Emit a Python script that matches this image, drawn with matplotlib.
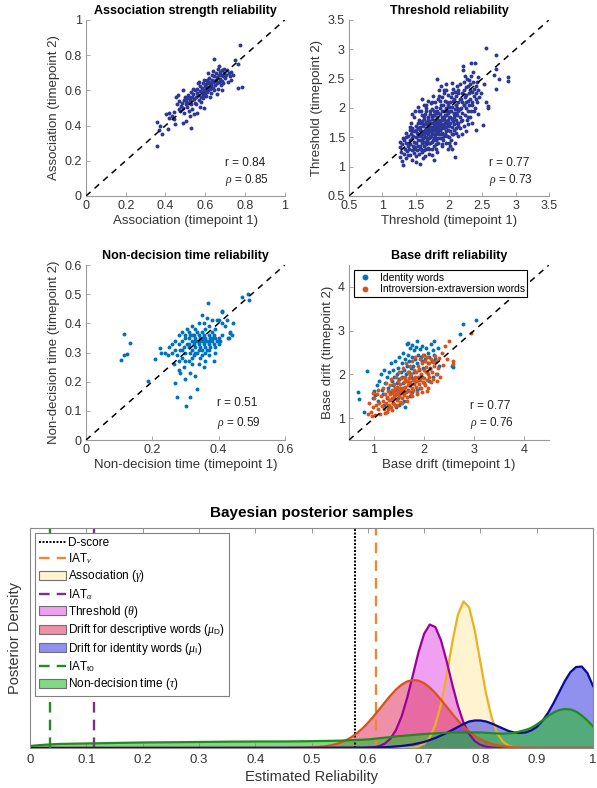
import numpy as np
import matplotlib
matplotlib.use("Agg")
import matplotlib.pyplot as plt
from matplotlib.patches import Patch
from matplotlib.lines import Line2D
from matplotlib.colors import to_rgba

plt.rcParams["font.family"] = ["Liberation Sans", "DejaVu Sans"]
plt.rcParams["mathtext.fontset"] = "custom"
plt.rcParams["mathtext.rm"] = "Liberation Sans"
plt.rcParams["mathtext.it"] = "Liberation Serif:italic"
plt.rcParams["mathtext.bf"] = "Liberation Sans:bold"

# ---------------- scatter data (timepoint 1, timepoint 2) ----------------
assoc_pts = [
    (0.357, 0.420), (0.357, 0.284), (0.371, 0.398), (0.382, 0.350), (0.366, 0.375),
    (0.412, 0.379), (0.441, 0.436), (0.405, 0.468), (0.420, 0.470), (0.432, 0.455),
    (0.445, 0.478), (0.418, 0.445), (0.448, 0.410),
    (0.487, 0.602), (0.487, 0.413), (0.455, 0.560), (0.462, 0.575), (0.470, 0.540),
    (0.478, 0.512), (0.483, 0.528), (0.490, 0.500), (0.495, 0.548), (0.468, 0.495),
    (0.458, 0.520), (0.492, 0.470), (0.475, 0.485), (0.498, 0.565),
    (0.501, 0.426), (0.526, 0.388), (0.541, 0.464), (0.505, 0.540), (0.510, 0.555),
    (0.515, 0.530), (0.520, 0.560), (0.525, 0.545), (0.530, 0.520), (0.535, 0.565),
    (0.540, 0.580), (0.545, 0.550), (0.508, 0.505), (0.518, 0.480), (0.522, 0.455),
    (0.532, 0.495), (0.538, 0.610), (0.548, 0.530), (0.512, 0.575), (0.528, 0.590),
    (0.546, 0.600), (0.503, 0.520),
    (0.593, 0.502), (0.552, 0.560), (0.556, 0.585), (0.560, 0.610), (0.565, 0.575),
    (0.568, 0.545), (0.572, 0.598), (0.575, 0.625), (0.578, 0.560), (0.582, 0.590),
    (0.585, 0.612), (0.588, 0.640), (0.590, 0.575), (0.595, 0.600), (0.598, 0.625),
    (0.555, 0.520), (0.562, 0.640), (0.570, 0.650), (0.580, 0.535), (0.587, 0.555),
    (0.592, 0.660), (0.597, 0.585), (0.558, 0.470), (0.576, 0.505),
    (0.646, 0.776), (0.602, 0.610), (0.605, 0.635), (0.608, 0.590), (0.610, 0.655),
    (0.612, 0.620), (0.615, 0.600), (0.618, 0.640), (0.620, 0.670), (0.622, 0.610),
    (0.625, 0.650), (0.628, 0.585), (0.630, 0.630), (0.632, 0.690), (0.635, 0.660),
    (0.638, 0.615), (0.640, 0.645), (0.642, 0.600), (0.645, 0.680), (0.648, 0.630),
    (0.603, 0.570), (0.613, 0.700), (0.623, 0.560), (0.633, 0.645), (0.637, 0.710),
    (0.643, 0.655), (0.607, 0.660), (0.627, 0.625),
    (0.652, 0.660), (0.655, 0.700), (0.658, 0.640), (0.660, 0.675), (0.662, 0.720),
    (0.665, 0.610), (0.668, 0.690), (0.670, 0.650), (0.672, 0.705), (0.675, 0.665),
    (0.678, 0.630), (0.680, 0.690), (0.683, 0.715), (0.685, 0.655), (0.688, 0.680),
    (0.690, 0.640), (0.693, 0.700), (0.697, 0.670), (0.657, 0.580), (0.667, 0.740),
    (0.682, 0.600), (0.695, 0.720),
    (0.775, 0.856), (0.751, 0.771), (0.763, 0.752), (0.783, 0.621), (0.765, 0.616),
    (0.731, 0.657), (0.705, 0.690), (0.710, 0.715), (0.718, 0.700), (0.722, 0.680),
    (0.728, 0.705), (0.715, 0.650), (0.740, 0.690),
]

thr_pts = [
    (1.26, 1.34), (1.26, 1.17), (1.31, 1.03), (1.28, 1.25), (1.30, 1.38), (1.32, 1.22),
    (1.33, 1.45), (1.34, 1.30), (1.35, 1.15), (1.36, 1.40), (1.37, 1.27), (1.38, 1.52),
    (1.39, 1.35), (1.29, 1.10), (1.35, 1.58), (1.31, 1.48), (1.38, 1.20), (1.27, 1.42),
    (1.40, 1.30), (1.41, 1.45), (1.41, 1.62), (1.42, 1.20), (1.42, 1.38), (1.43, 1.55),
    (1.43, 1.75), (1.44, 1.28), (1.44, 1.48), (1.45, 1.12), (1.45, 1.66), (1.46, 1.35),
    (1.46, 1.52), (1.47, 1.85), (1.47, 1.24), (1.48, 1.42), (1.48, 1.60), (1.49, 1.33),
    (1.49, 1.95), (1.50, 1.50), (1.50, 1.18), (1.51, 1.70), (1.51, 1.40), (1.52, 1.28),
    (1.52, 1.58), (1.53, 1.46), (1.53, 2.02), (1.54, 1.36), (1.54, 1.65), (1.55, 1.22),
    (1.55, 1.80), (1.45, 1.90), (1.50, 1.08), (1.42, 1.68), (1.53, 1.52),
    (1.56, 1.45), (1.56, 1.62), (1.57, 1.05), (1.57, 1.30), (1.58, 1.75), (1.58, 1.52),
    (1.59, 1.40), (1.59, 1.88), (1.60, 1.25), (1.60, 1.60), (1.61, 1.48), (1.61, 1.70),
    (1.62, 1.35), (1.62, 2.05), (1.63, 1.55), (1.63, 1.82), (1.64, 1.42), (1.64, 1.18),
    (1.65, 1.65), (1.65, 1.95), (1.66, 1.50), (1.66, 1.30), (1.67, 1.72), (1.67, 1.58),
    (1.68, 1.40), (1.68, 2.12), (1.69, 1.62), (1.69, 1.85), (1.70, 1.48), (1.70, 1.22),
    (1.57, 1.68), (1.58, 1.95), (1.60, 1.78), (1.61, 1.15), (1.62, 1.58), (1.63, 1.28),
    (1.64, 1.90), (1.65, 1.38), (1.66, 1.76), (1.67, 1.45), (1.68, 1.66), (1.69, 1.32),
    (1.56, 1.35), (1.59, 1.55), (1.62, 1.72), (1.64, 1.62), (1.66, 2.00), (1.68, 1.55),
    (1.70, 1.78), (1.60, 2.15),
    (1.71, 1.60), (1.71, 1.90), (1.72, 1.40), (1.72, 1.75), (1.73, 1.52), (1.73, 2.08),
    (1.74, 1.30), (1.74, 1.68), (1.75, 1.85), (1.75, 1.58), (1.76, 1.45), (1.76, 2.20),
    (1.77, 1.72), (1.77, 1.12), (1.78, 1.62), (1.78, 1.95), (1.79, 1.50), (1.79, 1.80),
    (1.80, 1.38), (1.80, 1.70), (1.81, 2.02), (1.81, 1.58), (1.82, 1.25), (1.82, 1.85),
    (1.83, 1.66), (1.83, 1.48), (1.84, 1.92), (1.84, 1.75), (1.85, 1.55), (1.85, 2.30),
    (1.72, 1.95), (1.73, 1.62), (1.74, 1.82), (1.75, 1.42), (1.76, 1.65), (1.77, 1.88),
    (1.78, 1.35), (1.79, 2.10), (1.80, 1.55), (1.81, 1.78), (1.82, 1.62), (1.83, 2.15),
    (1.84, 1.40), (1.825, 2.49), (1.71, 1.50), (1.73, 1.75), (1.75, 1.98), (1.77, 1.55),
    (1.79, 1.68), (1.81, 1.45), (1.83, 1.80), (1.85, 1.70), (1.74, 1.20), (1.78, 1.78),
    (1.82, 1.95),
    (1.86, 1.62), (1.86, 1.90), (1.87, 1.48), (1.87, 1.78), (1.88, 2.05), (1.88, 1.68),
    (1.89, 1.35), (1.89, 1.85), (1.90, 1.58), (1.90, 2.18), (1.91, 1.72), (1.91, 1.45),
    (1.92, 1.95), (1.92, 1.65), (1.93, 1.82), (1.93, 2.30), (1.94, 1.55), (1.94, 1.75),
    (1.95, 2.00), (1.95, 1.40), (1.96, 1.88), (1.96, 1.68), (1.97, 2.10), (1.97, 1.52),
    (1.98, 1.80), (1.98, 1.62), (1.99, 2.22), (1.99, 1.92), (2.00, 1.70), (2.00, 1.50),
    (1.86, 1.72), (1.87, 2.00), (1.88, 1.55), (1.89, 1.95), (1.90, 1.80), (1.91, 2.05),
    (1.92, 1.52), (1.93, 1.70), (1.94, 2.12), (1.95, 1.78), (1.96, 1.60), (1.97, 1.95),
    (1.98, 1.30), (1.99, 1.72), (2.00, 2.02), (1.88, 2.38), (1.92, 1.85), (1.95, 2.40),
    (1.97, 1.75), (1.90, 1.65),
    (2.01, 1.85), (2.01, 1.60), (2.02, 2.10), (2.02, 1.75), (2.03, 1.95), (2.03, 1.45),
    (2.04, 2.25), (2.04, 1.68), (2.05, 1.82), (2.05, 2.02), (2.06, 1.55), (2.06, 2.32),
    (2.07, 1.90), (2.07, 1.72), (2.08, 2.15), (2.08, 1.62), (2.09, 1.98), (2.09, 1.40),
    (2.10, 1.80), (2.10, 2.20), (2.11, 1.65), (2.11, 2.05), (2.12, 1.88), (2.12, 2.38),
    (2.13, 1.75), (2.13, 1.52), (2.14, 2.10), (2.14, 1.95), (2.095, 1.16), (2.02, 1.35),
    (2.05, 2.42), (2.08, 1.85), (2.10, 1.58), (2.12, 2.00), (2.14, 1.70), (2.03, 2.18),
    (2.06, 1.78), (2.09, 2.28), (2.11, 1.92), (2.13, 2.25),
    (2.16, 1.85), (2.16, 2.15), (2.17, 1.65), (2.17, 2.40), (2.18, 2.00), (2.18, 1.78),
    (2.19, 2.25), (2.19, 1.55), (2.20, 2.10), (2.20, 1.92), (2.21, 2.71), (2.21, 2.64),
    (2.22, 2.30), (2.22, 1.70), (2.23, 2.05), (2.23, 2.45), (2.24, 1.88), (2.24, 2.18),
    (2.25, 1.60), (2.25, 2.35), (2.26, 2.00), (2.26, 2.22), (2.27, 1.80), (2.27, 2.50),
    (2.28, 2.12), (2.28, 1.95), (2.29, 2.38), (2.29, 1.72), (2.30, 2.25), (2.30, 2.05),
    (2.31, 1.85), (2.31, 2.40), (2.32, 2.15), (2.33, 2.55), (2.33, 1.95), (2.335, 2.77),
    (2.34, 2.28), (2.35, 2.05), (2.35, 1.75), (2.36, 2.45), (2.37, 2.20), (2.38, 2.32),
    (2.385, 2.77), (2.39, 2.00), (2.40, 2.38), (2.41, 1.63), (2.41, 2.25), (2.42, 2.10),
    (2.43, 2.30), (2.44, 1.90), (2.44, 2.52), (2.45, 2.18),
    (2.56, 3.03), (2.71, 2.90), (2.70, 2.66), (2.67, 2.57), (2.745, 2.50), (2.885, 2.53),
    (2.885, 2.46), (2.71, 2.33), (2.585, 2.04), (2.585, 2.00), (2.51, 1.715), (2.48, 2.25),
    (2.52, 2.40), (2.55, 2.10),
    (1.36, 1.50), (1.40, 1.40), (1.44, 1.60), (1.47, 1.30), (1.50, 1.62), (1.53, 1.75),
    (1.56, 1.55), (1.58, 1.30), (1.60, 1.45), (1.62, 1.85), (1.64, 1.50), (1.66, 1.62),
    (1.68, 1.80), (1.70, 1.40), (1.72, 1.68), (1.74, 1.55), (1.76, 1.88), (1.78, 1.48),
    (1.80, 1.92), (1.82, 1.72), (1.84, 1.60), (1.86, 2.12), (1.88, 1.80), (1.90, 1.48),
    (1.92, 2.25), (1.94, 1.88), (1.96, 1.75), (1.98, 2.05), (2.00, 1.85), (2.02, 1.95),
    (2.04, 1.55), (2.06, 2.12), (2.08, 1.92), (2.10, 2.05), (2.12, 1.75), (2.14, 2.30),
    (2.16, 1.98), (2.18, 2.15), (2.20, 1.80), (2.22, 2.05), (2.24, 2.55), (2.26, 2.10),
    (2.28, 1.85), (2.30, 2.48), (2.32, 2.30), (2.34, 2.10), (2.36, 2.62), (2.38, 1.95),
    (2.40, 2.15), (2.42, 2.45), (1.55, 1.95), (1.65, 2.05), (1.75, 2.10), (1.85, 2.20),
    (1.95, 2.30), (1.70, 1.30), (1.80, 1.30), (1.90, 1.38), (2.00, 1.40), (2.05, 1.30),
]

ndt_pts = [
    (0.114, 0.364), (0.106, 0.274), (0.116, 0.290), (0.124, 0.295), (0.134, 0.331),
    (0.187, 0.203), (0.207, 0.278), (0.222, 0.316), (0.227, 0.299), (0.247, 0.293),
    (0.270, 0.195), (0.275, 0.146), (0.302, 0.118), (0.315, 0.149), (0.336, 0.176),
    (0.367, 0.469), (0.488, 0.500), (0.472, 0.489), (0.491, 0.480), (0.410, 0.443),
    (0.435, 0.366), (0.431, 0.351), (0.385, 0.270),
    (0.25, 0.32), (0.26, 0.30), (0.265, 0.26), (0.27, 0.34), (0.27, 0.31), (0.275, 0.29),
    (0.28, 0.33), (0.28, 0.36), (0.28, 0.24), (0.285, 0.31), (0.285, 0.23), (0.29, 0.34),
    (0.29, 0.28), (0.29, 0.37), (0.295, 0.32), (0.295, 0.25), (0.30, 0.35), (0.30, 0.30),
    (0.30, 0.21), (0.305, 0.33), (0.305, 0.38), (0.31, 0.32), (0.31, 0.27), (0.31, 0.35),
    (0.315, 0.30), (0.315, 0.36), (0.315, 0.23), (0.32, 0.34), (0.32, 0.31), (0.32, 0.39),
    (0.32, 0.26), (0.325, 0.33), (0.325, 0.36), (0.325, 0.29), (0.33, 0.35), (0.33, 0.32),
    (0.33, 0.38), (0.33, 0.22), (0.335, 0.34), (0.335, 0.30), (0.335, 0.37), (0.34, 0.33),
    (0.34, 0.36), (0.34, 0.31), (0.34, 0.40), (0.345, 0.35), (0.345, 0.32), (0.345, 0.28),
    (0.35, 0.34), (0.35, 0.37), (0.35, 0.31), (0.35, 0.43), (0.355, 0.33), (0.355, 0.36),
    (0.355, 0.25), (0.36, 0.35), (0.36, 0.32), (0.36, 0.38), (0.36, 0.30), (0.365, 0.34),
    (0.365, 0.42), (0.365, 0.31), (0.37, 0.36), (0.37, 0.33), (0.37, 0.39), (0.37, 0.29),
    (0.375, 0.35), (0.375, 0.32), (0.38, 0.37), (0.38, 0.34), (0.38, 0.41), (0.385, 0.33),
    (0.385, 0.36), (0.39, 0.35), (0.39, 0.32), (0.39, 0.38), (0.395, 0.34), (0.40, 0.41),
    (0.40, 0.35), (0.40, 0.33), (0.405, 0.34), (0.41, 0.36), (0.41, 0.40), (0.42, 0.39),
    (0.425, 0.41), (0.43, 0.35), (0.435, 0.37), (0.44, 0.36), (0.445, 0.40), (0.30, 0.36),
    (0.31, 0.37), (0.32, 0.36), (0.33, 0.34), (0.34, 0.34), (0.35, 0.35), (0.36, 0.34),
    (0.37, 0.34), (0.38, 0.35), (0.29, 0.31), (0.31, 0.33), (0.33, 0.30), (0.35, 0.29),
    (0.37, 0.31), (0.39, 0.30), (0.36, 0.27), (0.34, 0.26), (0.32, 0.28), (0.28, 0.27),
    (0.30, 0.27), (0.26, 0.33), (0.24, 0.30), (0.41, 0.44), (0.395, 0.41), (0.355, 0.40),
]

drift_identity_pts = [
    (0.67, 1.60), (0.70, 1.43), (0.79, 1.15), (0.855, 2.08), (0.97, 1.45), (1.00, 1.62),
    (1.02, 1.52), (1.05, 1.75), (1.08, 1.40), (1.10, 1.85), (1.13, 2.00), (1.20, 2.11),
    (1.15, 1.65), (1.18, 1.55), (1.22, 1.80), (1.25, 1.95), (1.28, 1.70), (1.30, 2.05),
    (1.32, 1.60), (1.34, 2.25), (1.35, 1.85), (1.37, 1.75), (1.38, 2.10), (1.40, 1.95),
    (1.42, 2.30), (1.43, 1.65), (1.45, 2.00), (1.46, 1.80), (1.48, 2.15), (1.50, 2.40),
    (1.50, 1.90), (1.52, 1.70), (1.53, 2.05), (1.55, 2.25), (1.56, 1.95), (1.58, 2.50),
    (1.58, 1.80), (1.60, 2.10), (1.61, 2.35), (1.62, 1.60), (1.63, 2.00), (1.65, 2.70),
    (1.65, 2.20), (1.66, 1.85), (1.67, 2.72), (1.68, 2.45), (1.69, 2.05), (1.70, 2.30),
    (1.71, 1.75), (1.72, 2.60), (1.73, 2.15), (1.74, 1.95), (1.75, 2.40), (1.76, 2.68),
    (1.77, 2.20), (1.78, 1.90), (1.80, 2.55), (1.80, 2.05), (1.82, 2.35), (1.83, 2.62),
    (1.84, 1.85), (1.86, 2.77), (1.86, 2.25), (1.88, 2.45), (1.90, 2.10), (1.91, 2.58),
    (1.92, 1.95), (1.94, 2.40), (1.95, 2.30), (1.96, 2.65), (1.98, 2.15), (2.00, 2.45),
    (2.00, 1.80), (2.02, 2.35), (2.04, 2.60), (2.05, 2.05), (2.07, 2.25), (2.08, 2.50),
    (2.10, 2.40), (2.12, 2.15), (2.14, 2.70), (2.15, 2.30), (2.17, 2.55), (2.18, 1.95),
    (2.20, 2.77), (2.20, 2.45), (2.22, 2.35), (2.25, 2.00), (2.27, 2.60), (2.30, 2.20),
    (2.55, 2.20), (2.57, 2.18), (2.71, 2.92), (2.78, 3.15), (3.04, 3.25), (1.40, 1.55),
    (1.47, 1.45), (1.55, 1.60), (1.60, 1.40), (1.68, 1.65), (1.72, 1.50), (1.38, 1.35),
    (1.44, 1.25), (1.50, 1.30), (1.30, 1.25), (1.25, 1.45), (1.20, 1.30), (1.62, 1.25),
    (1.75, 1.60), (1.85, 1.65), (1.92, 1.70), (2.10, 1.85),
]

drift_introext_pts = [
    (0.88, 1.10), (0.90, 1.35), (0.93, 1.13), (0.95, 1.05), (0.97, 1.58), (0.98, 1.25),
    (1.00, 1.45), (1.02, 1.08), (1.04, 1.30), (1.05, 1.55), (1.07, 1.20), (1.08, 1.65),
    (1.10, 1.35), (1.12, 1.10), (1.14, 1.50), (1.15, 1.28), (1.17, 1.70), (1.18, 1.40),
    (1.20, 1.22), (1.21, 1.55), (1.23, 1.35), (1.24, 1.80), (1.25, 1.15), (1.26, 1.48),
    (1.28, 1.62), (1.29, 1.30), (1.30, 1.42), (1.31, 1.75), (1.32, 1.55), (1.33, 1.25),
    (1.34, 1.90), (1.35, 1.45), (1.36, 1.65), (1.37, 1.35), (1.38, 1.58), (1.39, 1.78),
    (1.40, 1.48), (1.41, 1.68), (1.42, 1.30), (1.43, 1.95), (1.44, 1.55), (1.45, 1.72),
    (1.46, 1.42), (1.47, 1.62), (1.48, 1.85), (1.49, 1.50), (1.50, 2.05), (1.50, 1.68),
    (1.51, 1.38), (1.52, 1.78), (1.53, 1.58), (1.54, 1.92), (1.55, 1.45), (1.56, 1.70),
    (1.57, 2.15), (1.58, 1.62), (1.59, 1.82), (1.60, 1.52), (1.61, 1.95), (1.62, 1.72),
    (1.63, 2.25), (1.64, 1.60), (1.65, 1.85), (1.66, 1.48), (1.67, 2.05), (1.68, 1.75),
    (1.69, 1.92), (1.70, 1.62), (1.71, 2.20), (1.72, 1.82), (1.73, 1.55), (1.74, 2.00),
    (1.75, 1.70), (1.76, 2.30), (1.77, 1.88), (1.78, 1.65), (1.79, 2.10), (1.80, 1.78),
    (1.81, 1.95), (1.82, 2.40), (1.83, 1.72), (1.84, 2.05), (1.85, 1.85), (1.86, 1.60),
    (1.87, 2.20), (1.88, 1.95), (1.89, 1.78), (1.90, 2.12), (1.91, 2.35), (1.92, 1.88),
    (1.93, 2.02), (1.94, 1.70), (1.95, 2.25), (1.96, 1.95), (1.97, 2.45), (1.98, 1.82),
    (1.99, 2.10), (2.00, 1.92), (2.01, 2.30), (2.02, 1.75), (2.03, 2.05), (2.04, 2.18),
    (2.05, 1.88), (2.06, 2.40), (2.07, 2.00), (2.08, 1.68), (2.09, 2.25), (2.10, 1.95),
    (2.12, 2.12), (2.13, 2.35), (2.14, 1.82), (2.15, 2.05), (2.17, 2.28), (2.18, 1.90),
    (2.20, 2.20), (2.21, 2.42), (2.23, 2.00), (2.24, 2.30), (2.26, 1.85), (2.28, 2.15),
    (2.30, 2.38), (2.32, 1.95), (2.35, 2.48), (2.38, 2.22), (2.41, 2.66), (2.45, 2.35),
    (2.50, 2.76), (2.57, 2.23), (2.58, 2.30), (2.94, 2.95), (1.22, 1.12), (1.27, 1.20),
    (1.35, 1.18), (1.45, 1.30), (1.55, 1.35), (1.65, 1.40), (1.75, 1.50), (1.85, 1.55),
    (1.95, 1.60), (2.05, 1.62), (1.40, 1.62), (1.50, 1.58), (1.60, 1.68), (1.70, 1.78),
    (1.80, 1.88), (1.62, 1.88), (1.72, 1.98), (1.52, 1.65), (1.42, 1.52), (1.32, 1.42),
]

corr_stats = {"assoc": (0.84, 0.85), "thr": (0.77, 0.73), "ndt": (0.51, 0.59), "drift": (0.77, 0.76)}

# ---------------- posterior densities ----------------
assoc_x = [0.0, 0.66, 0.67, 0.68, 0.69, 0.70, 0.71, 0.72, 0.73, 0.74, 0.75, 0.76, 0.77, 0.78,
           0.79, 0.80, 0.81, 0.82, 0.83, 0.84, 0.85, 0.86, 0.87, 0.88, 1.0]
assoc_d = [0.0, 0.0, 0.01, 0.04, 0.15, 0.42, 1.05, 2.30, 4.38, 7.28, 10.55, 13.32, 14.66, 14.07,
           11.77, 8.58, 5.46, 3.03, 1.46, 0.62, 0.23, 0.07, 0.02, 0.0, 0.0]

thr_x = [0.0, 0.59, 0.60, 0.61, 0.62, 0.63, 0.64, 0.65, 0.66, 0.67, 0.68, 0.69, 0.70, 0.71, 0.72,
         0.73, 0.74, 0.75, 0.76, 0.77, 0.78, 0.79, 0.80, 0.81, 0.82, 0.83, 0.84, 1.0]
thr_d = [0.0, 0.0, 0.02, 0.07, 0.18, 0.43, 0.92, 1.79, 3.15, 5.03, 7.28, 9.58, 11.42, 12.35, 12.10,
         10.77, 8.69, 6.36, 4.22, 2.54, 1.39, 0.69, 0.31, 0.13, 0.05, 0.01, 0.0, 0.0]

driftD_x = [0.0, 0.46, 0.48, 0.50, 0.52, 0.53, 0.54, 0.55, 0.56, 0.57, 0.58, 0.59, 0.60, 0.61,
            0.62, 0.63, 0.64, 0.65, 0.66, 0.67, 0.68, 0.69, 0.70, 0.71, 0.72, 0.73, 0.74, 0.75,
            0.76, 0.77, 0.78, 0.79, 0.80, 0.81, 0.82, 0.83, 0.84, 0.86, 0.88, 0.90, 1.0]
driftD_d = [0.0, 0.0, 0.02, 0.05, 0.14, 0.22, 0.34, 0.51, 0.74, 1.05, 1.45, 1.93, 2.50, 3.15,
            3.84, 4.55, 5.23, 5.84, 6.33, 6.66, 6.79, 6.74, 6.48, 6.05, 5.49, 4.83, 4.12, 3.42,
            2.75, 2.15, 1.63, 1.20, 0.86, 0.60, 0.40, 0.26, 0.17, 0.06, 0.02, 0.0, 0.0]

driftI_x = [0.0, 0.30, 0.50, 0.60, 0.62, 0.64, 0.66, 0.68, 0.70, 0.72, 0.74, 0.76, 0.77, 0.78,
            0.79, 0.80, 0.81, 0.82, 0.83, 0.84, 0.85, 0.86, 0.87, 0.88, 0.89, 0.90, 0.91, 0.92,
            0.93, 0.94, 0.95, 0.96, 0.97, 0.98, 0.99, 1.00]
driftI_d = [0.0, 0.01, 0.02, 0.04, 0.06, 0.10, 0.20, 0.35, 0.60, 1.00, 1.50, 2.10, 2.40, 2.65,
            2.75, 2.75, 2.65, 2.45, 2.20, 1.95, 1.70, 1.55, 1.50, 1.55, 1.75, 2.10, 2.70, 3.50,
            4.50, 5.60, 6.70, 7.60, 8.10, 8.15, 7.50, 6.20]

ndt_x = [0.00, 0.02, 0.05, 0.10, 0.15, 0.20, 0.25, 0.30, 0.35, 0.40, 0.45, 0.50, 0.55, 0.60,
         0.65, 0.70, 0.75, 0.80, 0.82, 0.84, 0.86, 0.87, 0.88, 0.89, 0.90, 0.91, 0.92, 0.93,
         0.94, 0.95, 0.96, 0.97, 0.98, 0.99, 1.00]
ndt_d = [0.20, 0.30, 0.40, 0.45, 0.50, 0.55, 0.57, 0.60, 0.63, 0.65, 0.65, 0.68, 0.73, 0.85,
         1.15, 1.40, 1.55, 1.55, 1.48, 1.43, 1.50, 1.65, 1.80, 2.00, 2.35, 2.75, 3.20, 3.55,
         3.80, 3.90, 3.85, 3.65, 3.25, 2.75, 2.17]

ref_values = {"D-score": 0.577, "IAT_nu": 0.615, "IAT_alpha": 0.113, "IAT_t0": 0.036}

# ---------------- figure ----------------
fig = plt.figure(figsize=(5.97, 7.88), dpi=100)

SPINE = "#9a9a9a"
TXT = "#333333"
DARKBLUE = "#2c3796"
MBLUE = "#0072BD"
MORANGE = "#D95319"


def scatter_panel(rect, pts_list, colors, lims, ticks, xlabel, ylabel, title, stats, txt_xy):
    ax = fig.add_axes(rect)
    for pts, c in zip(pts_list, colors):
        p = np.array(pts)
        ax.scatter(p[:, 0], p[:, 1], s=8, color=c, linewidths=0, zorder=2)
    ax.axline((0, 0), slope=1, color="black", lw=1.1, dashes=(4, 3.5), zorder=3)
    ax.set_xlim(lims)
    ax.set_ylim(lims)
    ax.set_xticks(ticks)
    ax.set_yticks(ticks)
    ax.set_xticklabels([f"{t:g}" for t in ticks])
    ax.set_yticklabels([f"{t:g}" for t in ticks])
    for s in ["top", "right"]:
        ax.spines[s].set_visible(False)
    for s in ["left", "bottom"]:
        ax.spines[s].set_color(SPINE)
        ax.spines[s].set_linewidth(0.8)
    ax.tick_params(direction="in", length=3, width=0.6, color=SPINE, labelcolor=TXT,
                   labelsize=9, pad=3)
    ax.set_xlabel(xlabel, fontsize=9.5, color=TXT, labelpad=2)
    ax.set_ylabel(ylabel, fontsize=9.5, color=TXT, labelpad=3)
    ax.set_title(title, fontsize=9, fontweight="bold", pad=4)
    r, rho = stats
    ax.text(txt_xy[0], txt_xy[1], f"r = {r:.2f}", transform=ax.transAxes, fontsize=8.5,
            color="#222222", va="center")
    ax.text(txt_xy[0], txt_xy[2], rf"$\rho$ = {rho:.2f}", transform=ax.transAxes, fontsize=8.5,
            color="#222222", va="center")
    return ax


scatter_panel([0.144, 0.7513, 0.333, 0.2234], [assoc_pts], [DARKBLUE], (0, 1),
              [0, 0.2, 0.4, 0.6, 0.8, 1], "Association (timepoint 1)", "Association (timepoint 2)",
              "Association strength reliability", corr_stats["assoc"], (0.70, 0.19, 0.09))
scatter_panel([0.5846, 0.7513, 0.335, 0.2234], [thr_pts], [DARKBLUE], (0.5, 3.5),
              [0.5, 1, 1.5, 2, 2.5, 3, 3.5], "Threshold (timepoint 1)", "Threshold (timepoint 2)",
              "Threshold reliability", corr_stats["thr"], (0.70, 0.19, 0.09))
ax_ndt = scatter_panel([0.144, 0.4416, 0.333, 0.2221], [ndt_pts], [MBLUE], (0, 0.6),
                       [0, 0.1, 0.2, 0.3, 0.4, 0.5, 0.6], "Non-decision time (timepoint 1)",
                       "Non-decision time (timepoint 2)", "Non-decision time reliability",
                       corr_stats["ndt"], (0.66, 0.21, 0.10))
ax_ndt.set_xticks([0, 0.2, 0.4, 0.6])
ax_ndt.set_xticklabels(["0", "0.2", "0.4", "0.6"])
axd = scatter_panel([0.5846, 0.4416, 0.335, 0.2221], [drift_identity_pts, drift_introext_pts],
                    [MBLUE, MORANGE], (0.5, 4.5), [1, 2, 3, 4], "Base drift (timepoint 1)",
                    "Base drift (timepoint 2)", "Base drift reliability", corr_stats["drift"],
                    (0.605, 0.195, 0.10))
drift_handles = [
    Line2D([], [], ls="none", marker="o", ms=3.2, color=MBLUE),
    Line2D([], [], ls="none", marker="o", ms=3.2, color=MORANGE),
]
leg = axd.legend(drift_handles, ["Identity words", "Introversion-extraversion words"],
                 loc="upper left", fontsize=7.5, fancybox=False, framealpha=1,
                 edgecolor="black", borderaxespad=0.5, handlelength=1.6, handletextpad=0.6,
                 labelspacing=0.15, borderpad=0.25)
leg.get_frame().set_linewidth(0.8)

# ---------------- Bayesian posterior samples ----------------
ax = fig.add_axes([0.0503, 0.0508, 0.943, 0.279])

c_nu = "#EE8833"
c_alpha = "#7E2F8E"
c_t0 = "#228B22"

ax.axvline(ref_values["D-score"], color="black", lw=1.4, dashes=(1, 0.8))
ax.axvline(ref_values["IAT_nu"], color=c_nu, lw=1.7, dashes=(4.5, 3))
ax.fill_between(assoc_x, 0, assoc_d, facecolor="#FFEEAF", alpha=0.6, lw=0)
ax.plot(assoc_x, assoc_d, color="#EDB120", lw=1.6)
ax.axvline(ref_values["IAT_alpha"], color=c_alpha, lw=1.7, dashes=(4.5, 3))
ax.fill_between(thr_x, 0, thr_d, facecolor="#E661E6", alpha=0.6, lw=0)
ax.plot(thr_x, thr_d, color="#9B009B", lw=1.6)
ax.fill_between(driftD_x, 0, driftD_d, facecolor="#E3466E", alpha=0.6, lw=0)
ax.plot(driftD_x, driftD_d, color=MORANGE, lw=1.6)
ax.fill_between(driftI_x, 0, driftI_d, facecolor="#4646E3", alpha=0.6, lw=0)
ax.plot(driftI_x, driftI_d, color="#0A0A9A", lw=1.6)
ax.axvline(ref_values["IAT_t0"], color=c_t0, lw=1.7, dashes=(4.5, 3))
ax.fill_between(ndt_x, 0, ndt_d, facecolor="#2BBE2B", alpha=0.6, lw=0)
ax.plot(ndt_x, ndt_d, color="#1E8C1E", lw=1.6)

ax.set_xlim(0, 1)
ax.set_ylim(0, 22)
xt = [0, 0.1, 0.2, 0.3, 0.4, 0.5, 0.6, 0.7, 0.8, 0.9, 1]
ax.set_xticks(xt)
ax.set_xticklabels([f"{t:g}" for t in xt])
ax.set_yticks([])
for s in ax.spines.values():
    s.set_color("#8a8a8a")
    s.set_linewidth(0.8)
ax.tick_params(axis="x", direction="in", top=True, length=3.5, width=0.6, color="#8a8a8a",
               labelcolor=TXT, labelsize=9.5, pad=4)
ax.set_xlabel("Estimated Reliability", fontsize=10.5, color=TXT, labelpad=3)
ax.set_ylabel("Posterior Density", fontsize=10.5, color=TXT, labelpad=6)
ax.set_title("Bayesian posterior samples", fontsize=11, fontweight="bold", pad=8)


def area_handle(fc, alpha=0.6):
    return Patch(facecolor=to_rgba(fc, alpha), edgecolor="#707070", lw=0.8)


handles = [
    Line2D([], [], color="black", lw=1.4, dashes=(1, 0.8)),
    Line2D([], [], color=c_nu, lw=1.7, dashes=(4.5, 3)),
    area_handle("#FFEEAF"),
    Line2D([], [], color=c_alpha, lw=1.7, dashes=(4.5, 3)),
    area_handle("#E661E6"),
    area_handle("#E3466E"),
    area_handle("#4646E3"),
    Line2D([], [], color=c_t0, lw=1.7, dashes=(4.5, 3)),
    area_handle("#2BBE2B"),
]
labels = [
    "D-score",
    r"IAT$_\nu$",
    r"Association ($\gamma$)",
    r"IAT$_\alpha$",
    r"Threshold ($\theta$)",
    r"Drift for descriptive words ($\mu_{\rm D}$)",
    r"Drift for identity words ($\mu_{\rm I}$)",
    r"IAT$_{\rm t0}$",
    r"Non-decision time ($\tau$)",
]
leg2 = ax.legend(handles, labels, loc="upper left", fontsize=8.5, fancybox=False, framealpha=1,
                 edgecolor="#808080", borderaxespad=0.45, handlelength=2.3, handletextpad=0.2,
                 labelspacing=0.2, borderpad=0.3, handleheight=0.8)
leg2.get_frame().set_linewidth(0.8)

fig.savefig("out.png", dpi=100)
